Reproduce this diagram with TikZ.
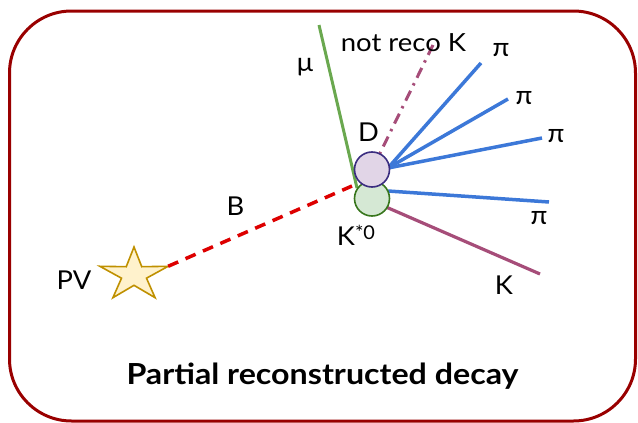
\documentclass[tikz,border=0pt]{standalone}
\usepackage{fontspec}
\setmainfont{Lato}
\definecolor{framec}{HTML}{990000}
\definecolor{bred}{HTML}{DD0000}
\definecolor{mugreen}{HTML}{6AA84F}
\definecolor{piblue}{HTML}{3C78D8}
\definecolor{kpurple}{HTML}{A64D79}
\definecolor{dfill}{HTML}{E1D5E7}
\definecolor{ddraw}{HTML}{3B2D80}
\definecolor{kfill}{HTML}{D5E8D4}
\definecolor{kdraw}{HTML}{38761D}
\definecolor{starfill}{HTML}{FFF2CC}
\definecolor{stardraw}{HTML}{BF9000}
\newcommand{\wide}[2]{\scalebox{#1}[1]{#2}}
\tikzset{
  lab/.style={inner sep=0pt, font=\fontsize{26}{30}\selectfont},
  smalllab/.style={inner sep=0pt, font=\fontsize{25}{29}\selectfont},
  dcirc/.style={circle, minimum size=35pt, inner sep=0pt, draw=ddraw, fill=dfill, line width=1.6pt},
  kcirc/.style={circle, minimum size=35pt, inner sep=0pt, draw=kdraw, fill=kfill, line width=1.6pt},
  pitrack/.style={draw=piblue, line width=3.5pt},
  ktrack/.style={draw=kpurple, line width=3.2pt},
  mutrack/.style={draw=mugreen, line width=3pt},
  btrack/.style={draw=bred, line width=3.5pt, dash pattern=on 11pt off 8pt},
  nrtrack/.style={draw=kpurple, line width=3pt, dash pattern=on 11pt off 6pt on 2.5pt off 6pt},
  starsty/.style={draw=stardraw, fill=starfill, line width=1.6pt, line join=miter}
}
\begin{document}
\begin{tikzpicture}[x=1pt,y=-1pt]
\useasboundingbox (0,0) rectangle (638,423);
\draw[framec, line width=3pt, rounded corners=62pt] (9.5,11) rectangle (635.5,421);

% star (PV)
\draw[starsty] (134,247) -- (141.75,266.7) -- (168.1,266.3) -- (146.5,278.2) -- (155.1,297.7)
  -- (134,285.3) -- (112.9,297.7) -- (121.5,278.2) -- (99.9,266.3) -- (126.25,266.7) -- cycle;
\coordinate (pvr) at (168.1,266.3);
\coordinate (PV) at (134,275);

% vertices
\coordinate (Dpos) at (372,169.5);
\coordinate (Kpos) at (372,198.5);
\coordinate (mutop) at (319,25);
\coordinate (mubot) at (357,188);
\coordinate (bend) at (352,186);
\coordinate (nrend) at (433,45);
\coordinate (pi1) at (481,63);
\coordinate (pi2) at (508,99);
\coordinate (pi3) at (542,138);
\coordinate (pi4) at (549,202);
\coordinate (kend) at (540,274);
\coordinate (Dedge) at (388,168);
\coordinate (Kedge1) at (388,191);
\coordinate (Kedge2) at (386,207);

% tracks
\draw[btrack] (pvr) -- (bend);
\draw[mutrack] (mutop) -- (mubot);
\draw[nrtrack] (nrend) -- (Dpos);
\draw[pitrack] (Dedge) -- (pi1);
\draw[pitrack] (Dedge) -- (pi2);
\draw[pitrack] (Dedge) -- (pi3);
\draw[pitrack] (Kedge1) -- (pi4);
\draw[ktrack] (Kedge2) -- (kend);

% decay vertices
\node[kcirc] (Ks) at (Kpos) {};
\node[dcirc] (D) at (Dpos) {};

% labels
\node[smalllab] (lnr) at (403.5,42.5) {\wide{1.1}{not reco K}};
\node[lab] (lmu) at (305,67) {\wide{1.05}{μ}};
\node[lab] (lD) at (368.5,132) {\wide{1.05}{D}};
\node[lab] (lKs) at (356,235.5) {\wide{1.05}{K\raisebox{0.42ex}{\fontsize{19}{21}\selectfont *0}}};
\node[lab] (lB) at (235.5,206) {\wide{1.05}{B}};
\node[lab] (lPV) at (74,280) {\wide{1.05}{PV}};
\node[lab] (lpi1) at (501,50) {\wide{1.05}{π}};
\node[lab] (lpi2) at (524,98) {\wide{1.05}{π}};
\node[lab] (lpi3) at (556,136) {\wide{1.05}{π}};
\node[lab] (lpi4) at (539,218) {\wide{1.05}{π}};
\node[lab] (lK) at (504,285) {\wide{1.05}{K}};
\node[inner sep=0pt, font=\bfseries\fontsize{29}{34}\selectfont] (title) at (322.5,376) {\wide{1.11}{Partial reconstructed decay}};
\end{tikzpicture}
\end{document}
